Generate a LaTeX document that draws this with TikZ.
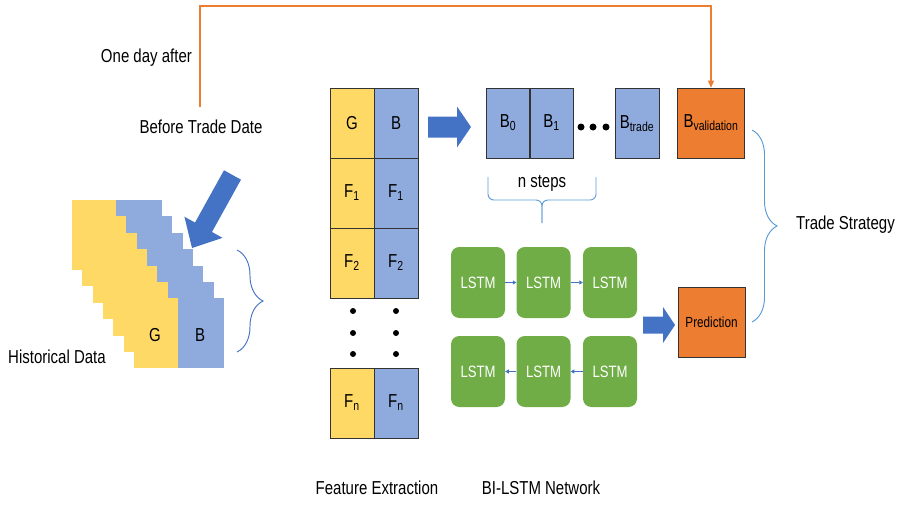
\documentclass[tikz,border=0pt]{standalone}
\usepackage{fontspec}
\setmainfont{Liberation Sans}[FakeStretch=0.8]
\usepackage{xcolor}
\usetikzlibrary{arrows.meta,decorations.pathreplacing}
\definecolor{gold}{HTML}{FFD966}
\definecolor{lblue}{HTML}{8FAADC}
\definecolor{dblue}{HTML}{4472C4}
\definecolor{sblue}{HTML}{5B9BD5}
\definecolor{orng}{HTML}{ED7D31}
\definecolor{grn}{HTML}{70AD47}

\begin{document}
\begin{tikzpicture}[x=0.03cm,y=-0.03cm,font=\fontsize{16}{19}\selectfont,
  gcell/.style={draw=black!80,fill=gold,minimum width=1.32cm,minimum height=2.1cm,inner sep=0pt},
  bcell/.style={gcell,fill=lblue},
  obox/.style={draw=black!80,fill=orng,minimum width=2cm,minimum height=2.1cm,inner sep=0pt},
  lstm/.style={fill=grn,rounded corners=0.25cm,minimum width=1.62cm,minimum height=2.13cm,inner sep=0pt,text=white,font=\fontsize{14}{16}\selectfont},
  brc/.style={decorate,decoration={brace,amplitude=#1},line width=0.8pt},
  sbrc/.style={sblue,line width=0.8pt,rounded corners=5},
  link/.style={dblue,line width=0.5pt,-{Triangle[length=3pt,width=3.5pt]}}]
\useasboundingbox (0,0) rectangle (899,504);

\foreach \i in {0,...,6} {
  \fill[gold] ({72+10.3*\i},{200+16.4*\i}) rectangle ++(44,70);
  \fill[lblue] ({116+10.3*\i},{200+16.4*\i}) rectangle ++(46,70);
}
\node (hg) at (155,335) {G};
\node (hb) at (200,335) {B};
\node (hist) at (57,357) {Historical Data};
\coordinate (hb1) at (237,250);
\coordinate (hb2) at (237,352);
\draw[brc=0.78cm,dblue] (hb1) -- (hb2);

\node (oneday) [anchor=east] at (196,58) {One day after};
\node (before) at (201,127) {Before Trade Date};
\begin{scope}[shift={(192,248)},rotate=241]
  \fill[dblue] (-83.5,-9.7) -- (-23.7,-9.7) -- (-23.7,-21.8) -- (0,0)
    -- (-23.7,21.8) -- (-23.7,9.7) -- (-83.5,9.7) -- cycle;
\end{scope}

\node[gcell] (g0) at (352,123) {G};
\node[bcell] (b0) at (396,123) {B};
\node[gcell] (g1) at (352,193) {F\textsubscript{1}};
\node[bcell] (b1) at (396,193) {F\textsubscript{1}};
\node[gcell] (g2) at (352,263) {F\textsubscript{2}};
\node[bcell] (b2) at (396,263) {F\textsubscript{2}};
\node[gcell] (gn) at (352,403) {F\textsubscript{n}};
\node[bcell] (bn) at (396,403) {F\textsubscript{n}};
\foreach \y in {311,333,354} {
  \fill (353,\y) circle (3);
  \fill (396,\y) circle (3);
}
\node (featlab) at (377,488) {Feature Extraction};

\fill[dblue] (428,116.5) -- (457,116.5) -- (457,106.5) -- (471,127)
  -- (457,147.5) -- (457,137.5) -- (428,137.5) -- cycle;

\node[bcell,minimum width=1.3cm] (bz) at (508,123) {B\textsubscript{0}};
\node[bcell,minimum width=1.3cm] (bo) at (551.5,123) {B\textsubscript{1}};
\foreach \x in {581,593,606} \fill (\x,127) circle (3.5);
\node[bcell] (btr) at (637,123.5) {B\textsubscript{trade}};
\node[obox] (bval) at (711,123) {B\textsubscript{validation}};

\node (nsteps) at (542,183) {n steps};
\coordinate (ns1) at (488,177);
\coordinate (ns2) at (596,177);
\coordinate (nsm) at (542,200);
\coordinate (nst) at (542,223);
\draw[sbrc] (ns1) |- (nsm) -- (nst);
\draw[sbrc] (ns2) |- (nsm) -- (nst);

\node[lstm] (f1) at (478,282.5) {LSTM};
\node[lstm] (f2) at (543.5,282.5) {LSTM};
\node[lstm] (f3) at (610,282.5) {LSTM};
\node[lstm] (r1) at (478,371.5) {LSTM};
\node[lstm] (r2) at (543.5,371.5) {LSTM};
\node[lstm] (r3) at (610,371.5) {LSTM};
\draw[link] (f1) -- (f2);
\draw[link] (f2) -- (f3);
\draw[link] (r3) -- (r2);
\draw[link] (r2) -- (r1);
\node (netlab) at (541,488) {BI-LSTM Network};

\fill[dblue] (643,316.5) -- (663,316.5) -- (663,307) -- (675,325)
  -- (663,343) -- (663,333.5) -- (643,333.5) -- cycle;
\node[obox,font=\fontsize{12.5}{15}\selectfont] (pred) at (711.5,322.5) {Prediction};

\coordinate (ts1) at (752,130);
\coordinate (ts2) at (752,322);
\draw[brc=0.75cm,sblue] (ts1) -- (ts2);
\node (trade) [anchor=west] at (792,225) {Trade Strategy};

\coordinate (oa) at (200,107);
\coordinate (ob) at (200,6);
\draw[orng,line width=1pt,-{Triangle[length=6pt,width=5pt]}] (oa) -- (ob) -| (bval.north);
\end{tikzpicture}
\end{document}
